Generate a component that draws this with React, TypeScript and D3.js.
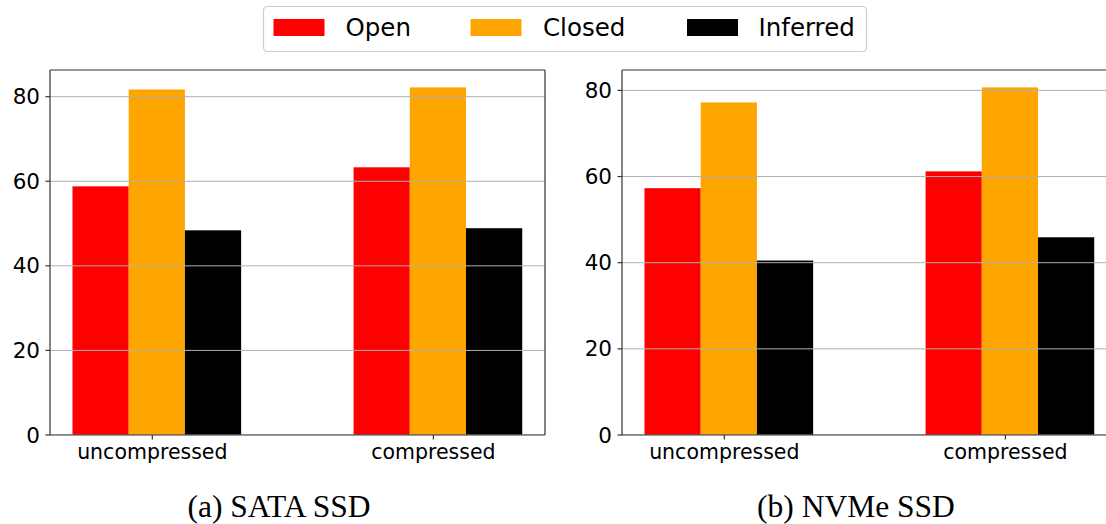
import React from "react";
import * as d3 from "d3";

// Throughput share per access mode, two storage devices
const categories = ["uncompressed", "compressed"];
const seriesNames = ["Open", "Closed", "Inferred"];
const seriesColors = ["#ff0000", "#ffa500", "#000000"];

const sataOpen = [58.8, 63.3];
const sataClosed = [81.7, 82.2];
const sataInferred = [48.4, 48.9];

const nvmeOpen = [57.3, 61.2];
const nvmeClosed = [77.2, 80.7];
const nvmeInferred = [40.5, 45.9];

const yTicks = [0, 20, 40, 60, 80];

const panels = [
  { caption: "(a) SATA SSD", series: [sataOpen, sataClosed, sataInferred], x0: 50, capX: 279 },
  { caption: "(b) NVMe SSD", series: [nvmeOpen, nvmeClosed, nvmeInferred], x0: 622, capX: 856 },
];

const W = 1106;
const H = 524;
const TOP = 70;
const BOTTOM = 435;
const PANEL_W = 495;
const BAR_W = 0.2;
const BAR_START = -0.284;

function Panel({ caption, series, x0, capX }: { caption: string; series: number[][]; x0: number; capX: number }) {
  const maxV = d3.max(series.flat()) as number;
  const y = d3.scaleLinear().domain([0, maxV * 1.05]).range([BOTTOM, TOP]);
  const x = d3.scaleLinear().domain([-0.364, 1.397]).range([x0, x0 + PANEL_W]);
  const clipId = `clip-${x0}`;
  const right = Math.min(x0 + PANEL_W, W);
  return (
    <g>
      <defs>
        <clipPath id={clipId}>
          <rect x={x0} y={TOP} width={PANEL_W} height={BOTTOM - TOP} />
        </clipPath>
      </defs>
      <g clipPath={`url(#${clipId})`}>
        {series.map((vals, si) =>
          vals.map((v, ci) => {
            const xl = x(ci + BAR_START + si * BAR_W);
            const xr = x(ci + BAR_START + (si + 1) * BAR_W);
            return (
              <rect
                key={`${si}-${ci}`}
                x={xl}
                y={y(v)}
                width={xr - xl}
                height={BOTTOM - y(v)}
                fill={seriesColors[si]}
              />
            );
          })
        )}
        {yTicks.map((t) => (
          <line key={t} x1={x0} x2={x0 + PANEL_W} y1={y(t)} y2={y(t)} stroke="#b0b0b0" strokeWidth={1} />
        ))}
      </g>
      {/* spines */}
      <line x1={x0} x2={x0} y1={TOP} y2={BOTTOM} stroke="#333" strokeWidth={1.2} />
      <line x1={x0} x2={right} y1={BOTTOM} y2={BOTTOM} stroke="#333" strokeWidth={1.2} />
      <line x1={x0} x2={right} y1={TOP} y2={TOP} stroke="#333" strokeWidth={1.2} />
      {x0 + PANEL_W <= W && (
        <line x1={x0 + PANEL_W} x2={x0 + PANEL_W} y1={TOP} y2={BOTTOM} stroke="#333" strokeWidth={1.2} />
      )}
      {yTicks.map((t) => (
        <g key={t}>
          <line x1={x0 - 4.5} x2={x0} y1={y(t)} y2={y(t)} stroke="#333" strokeWidth={1.2} />
          <text
            x={x0 - 10}
            y={y(t)}
            textAnchor="end"
            dominantBaseline="central"
            fontFamily="DejaVu Sans"
            fontSize={21.5}
            fill="#000"
          >
            {t}
          </text>
        </g>
      ))}
      {categories.map((c, ci) => (
        <g key={c}>
          <line x1={x(ci)} x2={x(ci)} y1={BOTTOM} y2={BOTTOM + 4.5} stroke="#333" strokeWidth={1.2} />
          <text x={x(ci)} y={BOTTOM + 24} textAnchor="middle" fontFamily="DejaVu Sans" fontSize={20.5} fill="#000">
            {c}
          </text>
        </g>
      ))}
      <text x={capX} y={517} textAnchor="middle" fontFamily="Liberation Serif" fontSize={31.5} fill="#000">
        {caption}
      </text>
    </g>
  );
}

function Legend() {
  const items = [
    { sx: 273.5, tx: 345.5 },
    { sx: 470.5, tx: 543 },
    { sx: 687, tx: 758.5 },
  ];
  return (
    <g>
      <rect x={263.5} y={6.5} width={603} height={45} rx={4} fill="#fff" stroke="#cccccc" strokeWidth={1.2} />
      {seriesNames.map((n, i) => (
        <g key={n}>
          <rect x={items[i].sx} y={19} width={51} height={17} fill={seriesColors[i]} />
          <text x={items[i].tx} y={36} fontFamily="DejaVu Sans" fontSize={24.5} fill="#000">
            {n}
          </text>
        </g>
      ))}
    </g>
  );
}

export default function App() {
  return (
    <svg
      width={W}
      height={H}
      viewBox={`0 0 ${W} ${H}`}
      style={{ position: "absolute", left: 0, top: 0, background: "#fff" }}
    >
      <rect width={W} height={H} fill="#fff" />
      {panels.map((p) => (
        <Panel key={p.caption} caption={p.caption} series={p.series} x0={p.x0} capX={p.capX} />
      ))}
      <Legend />
    </svg>
  );
}
